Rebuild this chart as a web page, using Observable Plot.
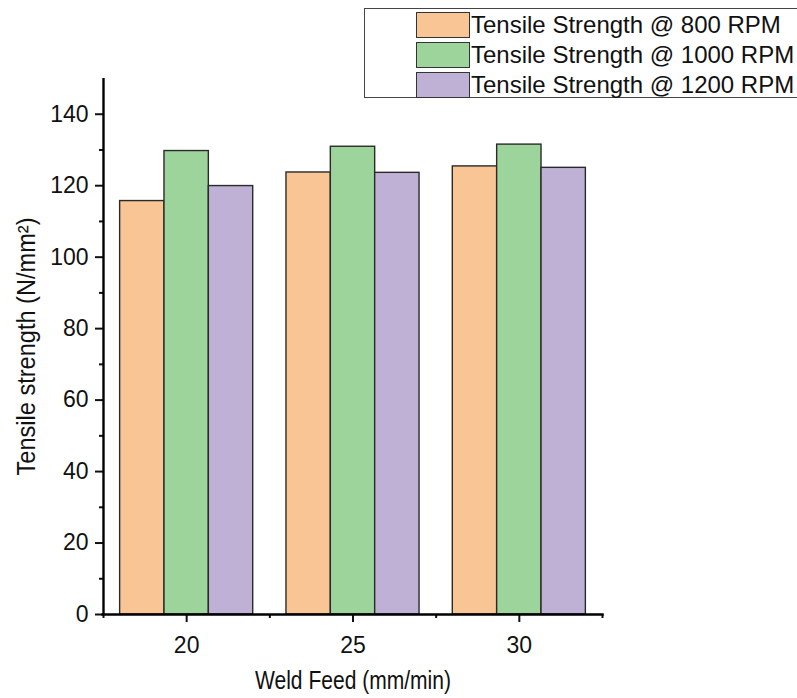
<!DOCTYPE html>
<html><head><meta charset="utf-8">
<script src="https://cdn.jsdelivr.net/npm/d3@7"></script>
<script src="https://cdn.jsdelivr.net/npm/@observablehq/plot@0.6"></script>
<style>
body{margin:0;background:#fff;font-family:"Liberation Sans",Arial,sans-serif;overflow:hidden}
#wrap{position:relative;width:797px;height:698px;overflow:hidden}
#legend{position:absolute;left:364px;top:8px;width:520px;height:90px;border:1.5px solid #444;border-right:none;background:#fff;box-sizing:border-box}
.row{position:absolute;left:51px;height:26px;display:flex;align-items:center}
.sw{width:54px;height:26px;border:1.5px solid #333;box-sizing:border-box;flex:none}
.lab{font-size:24px;margin-left:1px;color:#111;white-space:nowrap;line-height:26px}
</style></head><body><div id="wrap"></div>
<script>
const feeds = [20, 25, 30];
const series = ["Tensile Strength @ 800 RPM", "Tensile Strength @ 1000 RPM", "Tensile Strength @ 1200 RPM"];
const colors = ["#F9C594", "#9DD49B", "#BFB0D6"];
const s800 = [115.7, 123.7, 125.4];
const s1000 = [129.7, 130.9, 131.5];
const s1200 = [119.9, 123.6, 125.0];
const yTicks = [0, 20, 40, 60, 80, 100, 120, 140];
const yMinor = [10, 30, 50, 70, 90, 110, 130];
const xTicks = [20, 25, 30];
const xMinor = [17.5, 22.5, 27.5, 32.5];
const yTitle = "Tensile strength (N/mm²)";
const xTitle = "Weld Feed (mm/min)";

const values = [s800, s1000, s1200];
const groupWidth = 4;
const data = [];
feeds.forEach((f, gi) => series.forEach((s, si) => data.push({feed: f, series: s, si, value: values[si][gi]})));

const chart = Plot.plot({
  width: 797, height: 698,
  marginLeft: 103, marginRight: 195, marginTop: 78, marginBottom: 84,
  style: {fontFamily: '"Liberation Sans", Arial, sans-serif', color: "#111", background: "#fff"},
  x: {domain: [17.5, 32.5]},
  y: {domain: [0, 150]},
  color: {domain: series, range: colors},
  marks: [
    Plot.rectY(data, {
      x1: d => d.feed - groupWidth / 2 + d.si * groupWidth / 3,
      x2: d => d.feed - groupWidth / 2 + (d.si + 1) * groupWidth / 3,
      y1: 0, y2: "value", fill: "series", stroke: "#2a2a2a", strokeWidth: 1.4
    }),
    Plot.axisY(yTicks, {tickSize: 8, tickPadding: 7, fontSize: 23, strokeWidth: 2, label: yTitle, labelAnchor: "center", labelOffset: 86}),
    Plot.axisY(yMinor, {tickSize: 4, text: null, label: null, strokeWidth: 2}),
    Plot.axisX(xTicks, {tickSize: 8, tickPadding: 14, fontSize: 23, strokeWidth: 2, label: xTitle, labelAnchor: "center", labelOffset: 74}),
    Plot.axisX(xMinor, {tickSize: 4, text: null, label: null, strokeWidth: 2}),
    Plot.ruleX([17.5], {y1: 0, y2: 150, stroke: "#000", strokeWidth: 2.4}),
    Plot.ruleY([0], {x1: 17.45, x2: 32.55, stroke: "#000", strokeWidth: 2.4})
  ]
});
const wrap = document.getElementById("wrap");
wrap.appendChild(chart);
chart.querySelectorAll("text").forEach(t => {
  const s = t.textContent;
  if (s.includes("Tensile strength") || s.includes("Weld Feed")) {
    const isX = s.includes("Weld");
    t.textContent = isX ? xTitle : yTitle;
    const fs = isX ? 25 : 25;
    t.setAttribute("font-size", fs);
    t.style.fontSize = fs + "px";
    t.setAttribute("textLength", isX ? 196 : 258);
    t.setAttribute("lengthAdjust", "spacingAndGlyphs");
  }
});

const legend = document.createElement("div");
legend.id = "legend";
series.forEach((s, i) => {
  const row = document.createElement("div");
  row.className = "row";
  row.style.top = (2.5 + i * 30) + "px";
  const sw = document.createElement("div");
  sw.className = "sw";
  sw.style.background = colors[i];
  const lab = document.createElement("span");
  lab.className = "lab";
  lab.textContent = s;
  row.appendChild(sw); row.appendChild(lab);
  legend.appendChild(row);
});
wrap.appendChild(legend);
</script></body></html>
